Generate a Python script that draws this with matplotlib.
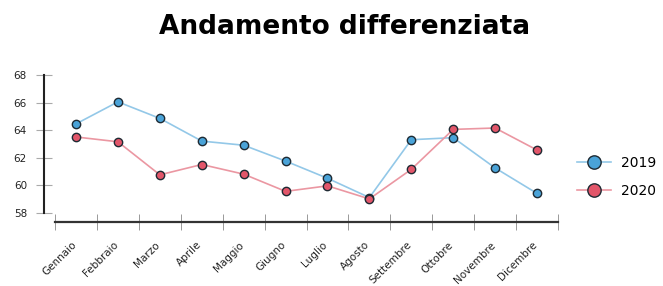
import matplotlib.pyplot as plt
from matplotlib.lines import Line2D

plt.rcParams['font.family'] = ['DejaVu Sans']

mesi = ['Gennaio', 'Febbraio', 'Marzo', 'Aprile', 'Maggio', 'Giugno',
        'Luglio', 'Agosto', 'Settembre', 'Ottobre', 'Novembre', 'Dicembre']
anni = ['2019', '2020']
val_2019 = [64.45, 66.05, 64.85, 63.2, 62.9, 61.75, 60.5, 59.1, 63.3, 63.45, 61.25, 59.4]
val_2020 = [63.5, 63.15, 60.75, 61.5, 60.8, 59.55, 59.95, 59.0, 61.15, 64.05, 64.15, 62.55]
y_ticks = [58, 60, 62, 64, 66, 68]

line_col = ['#93c8e8', '#eb97a2']
dot_col = ['#4aa3d8', '#e2566a']
edge = '#1e2a33'

fig = plt.figure(figsize=(6.63, 2.86), dpi=100)
fig.patch.set_facecolor('white')

# plot area: y spine at x=44px, band width ~41.9px, x axis offset below
ax = fig.add_axes([44 / 663, 1 - 212.7 / 286, 514 / 663, 137.7 / 286])
x = list(range(len(mesi)))
for vals, lc, dc in zip([val_2019, val_2020], line_col, dot_col):
    ax.plot(x, vals, '-', color=lc, lw=1.2, zorder=2, clip_on=False)
    ax.plot(x, vals, 'o', ms=6, mfc=dc, mec=edge, mew=1.0, zorder=3, clip_on=False)
ax.set_xlim(-0.764, 11.5)
ax.set_ylim(58, 68)

# y axis
ax.set_yticks(y_ticks)
ax.tick_params(axis='y', direction='inout', length=11.5, width=0.8, color='#aaaaaa',
               labelsize=7.5, pad=6.5, labelcolor='#222222')
ax.spines['left'].set_linewidth(1.5)
ax.spines['left'].set_color('#222222')

# x axis: band boundaries as ticks, month names near band centres
ax.spines['bottom'].set_position(('outward', 6.5))
ax.spines['bottom'].set_bounds(-0.5, 11.5)
ax.spines['bottom'].set_linewidth(1.6)
ax.spines['bottom'].set_color('#333333')
ax.set_xticks([i - 0.5 for i in range(13)])
ax.set_xticklabels([])
ax.set_xticks([i - 0.12 for i in x], minor=True)
ax.set_xticklabels(mesi, minor=True, rotation=45, ha='right',
                   rotation_mode='anchor', fontsize=7.5, color='#222222')
ax.tick_params(axis='x', which='major', direction='inout', length=11, width=0.7,
               color='#999999')
ax.tick_params(axis='x', which='minor', length=0, pad=13)
for s in ['top', 'right']:
    ax.spines[s].set_visible(False)
ax.patch.set_alpha(0)

fig.text(0.519, 0.904, 'Andamento differenziata', ha='center', va='center',
         fontsize=19, fontweight='bold')

handles = [Line2D([0], [0], color=lc, lw=1.2, marker='o', ms=9.6, mfc=dc,
                  mec=edge, mew=1.0) for lc, dc in zip(line_col, dot_col)]
fig.legend(handles, anni, loc='center left', bbox_to_anchor=(571 / 663, 1 - 176.7 / 286),
           frameon=False, fontsize=10, handlelength=2.5, labelspacing=1.0,
           handletextpad=0.7, borderaxespad=0.0)

fig.savefig('out.png', dpi=100)
